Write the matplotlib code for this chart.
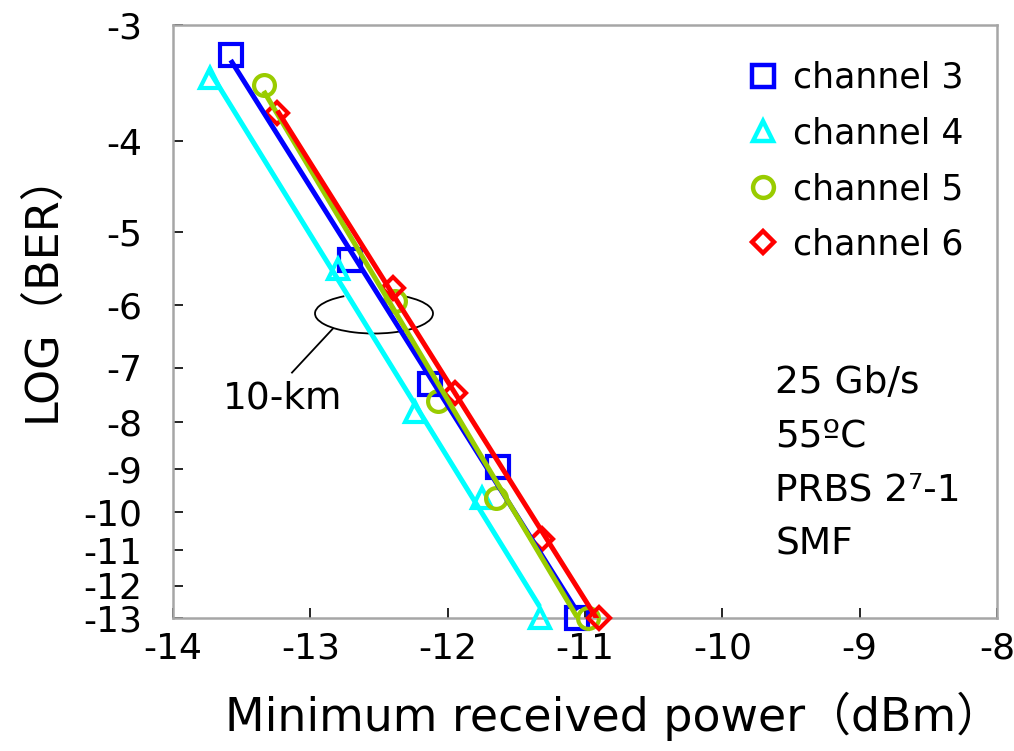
import numpy as np
import matplotlib
matplotlib.use("Agg")
import matplotlib.pyplot as plt
from matplotlib.patches import Arc
from matplotlib.lines import Line2D

# ---- data ----
labels = ["channel 3", "channel 4", "channel 5", "channel 6"]
ch3_x = [-13.58, -12.71, -12.13, -11.63, -11.06]
ch3_y = [-3.23, -5.37, -7.28, -8.96, -13.0]
ch4_x = [-13.73, -12.80, -12.24, -11.75, -11.33]
ch4_y = [-3.42, -5.48, -7.82, -9.66, -13.0]
ch5_x = [-13.34, -12.38, -12.07, -11.65, -10.98]
ch5_y = [-3.48, -5.93, -7.60, -9.66, -13.0]
ch6_x = [-13.24, -12.40, -11.95, -11.31, -10.90]
ch6_y = [-3.73, -5.75, -7.45, -10.69, -13.0]

x_ticks = [-14, -13, -12, -11, -10, -9, -8]
x_ticklabels = ["-14", "-13", "-12", "-11", "-10", "-9", "-8"]
y_ticks = [-3, -4, -5, -6, -7, -8, -9, -10, -11, -12, -13]
y_ticklabels = ["-3", "-4", "-5", "-6", "-7", "-8", "-9", "-10", "-11", "-12", "-13"]

conditions = "25 Gb/s\n55\u00baC\nPRBS 2\u2077-1\nSMF"

# ---- styles ----
colors = ["#0000FF", "#00FFFF", "#99CC00", "#FF0000"]
markers = ["s", "^", "o", "D"]
msizes = [16, 15, 15, 11.5]

plt.rcParams["font.family"] = ["DejaVu Sans", "Noto Sans CJK JP"]

fig = plt.figure(figsize=(10.14, 7.51), dpi=100)
ax = fig.add_axes([173/1014, 1 - 618/751, (997-173)/1014, (618-25)/751])


def fwd(v):
    v = np.asarray(v, dtype=float)
    return -np.log10(np.clip(-v, 1e-6, None))


def inv(t):
    return -np.power(10.0, -np.asarray(t, dtype=float))


ax.set_yscale("function", functions=(fwd, inv))
ax.set_xlim(-14, -8)
ax.set_ylim(-13, -3)

series = [(ch3_x, ch3_y), (ch4_x, ch4_y), (ch5_x, ch5_y), (ch6_x, ch6_y)]
handles = []
for (xs, ys), c, m, ms, lab in zip(series, colors, markers, msizes, labels):
    xs = np.array(xs)
    ys = np.array(ys)
    p = np.polyfit(xs, fwd(ys), 1)
    xl = np.linspace(xs.min(), xs.max(), 50)
    yl = inv(np.polyval(p, xl))
    ax.plot(xs, ys, linestyle="none", marker=m, ms=ms, mfc="none", mec=c,
            mew=3.0, clip_on=False, zorder=3)
    ax.plot(xl, yl, color=c, lw=3.6, zorder=4, solid_capstyle="butt")
    handles.append(Line2D([], [], linestyle="none", marker=m, ms=ms,
                          mfc="none", mec=c, mew=3.2, label=lab))

# ticks
ax.set_xticks(x_ticks)
ax.set_xticklabels(x_ticklabels)
ax.set_yticks(y_ticks)
ax.set_yticklabels(y_ticklabels)
ax.yaxis.set_minor_locator(matplotlib.ticker.NullLocator())
ax.tick_params(axis="both", direction="in", length=7, width=1.2, color="black",
               labelsize=26)
ax.tick_params(axis="y", pad=22)
ax.tick_params(axis="x", pad=10, top=False)

for s in ax.spines.values():
    s.set_color("#A6A6A6")
    s.set_linewidth(1.8)

# labels
ax.set_xlabel("Minimum received power\uff08dBm\uff09", fontsize=33)
ax.xaxis.set_label_coords(0.535, -0.125)
ax.set_ylabel("LOG\uff08BER\uff09", fontsize=32)
ax.yaxis.set_label_coords(-0.133, 0.56)

# legend
ax.legend(handles=handles, loc="upper left", frameon=False, fontsize=25,
          bbox_to_anchor=(746/1014, 1 - 61/751), bbox_transform=fig.transFigure,
          handlelength=1.0, handletextpad=0.35, labelspacing=0.62,
          borderaxespad=0, borderpad=0)

# conditions text
ax.text((775-173)/824, 1 - (463-25)/592, conditions, transform=ax.transAxes,
        ha="left", va="center", fontsize=27, linespacing=1.63)

# 10-km annotation
arc = Arc(((374-173)/824, 1 - (313-25)/592), 118/824, 40/592,
          theta1=141, theta2=397, transform=ax.transAxes, color="black",
          lw=1.3, zorder=2)
ax.add_patch(arc)
ax.plot([(333-173)/824, (292-173)/824], [1 - (328-25)/592, 1 - (372-25)/592],
        transform=ax.transAxes, color="black", lw=1.3)
ax.text((283-173)/824, 1 - (398-25)/592, "10-km", transform=ax.transAxes,
        ha="center", va="center", fontsize=27)

fig.savefig("out.png", dpi=100)
